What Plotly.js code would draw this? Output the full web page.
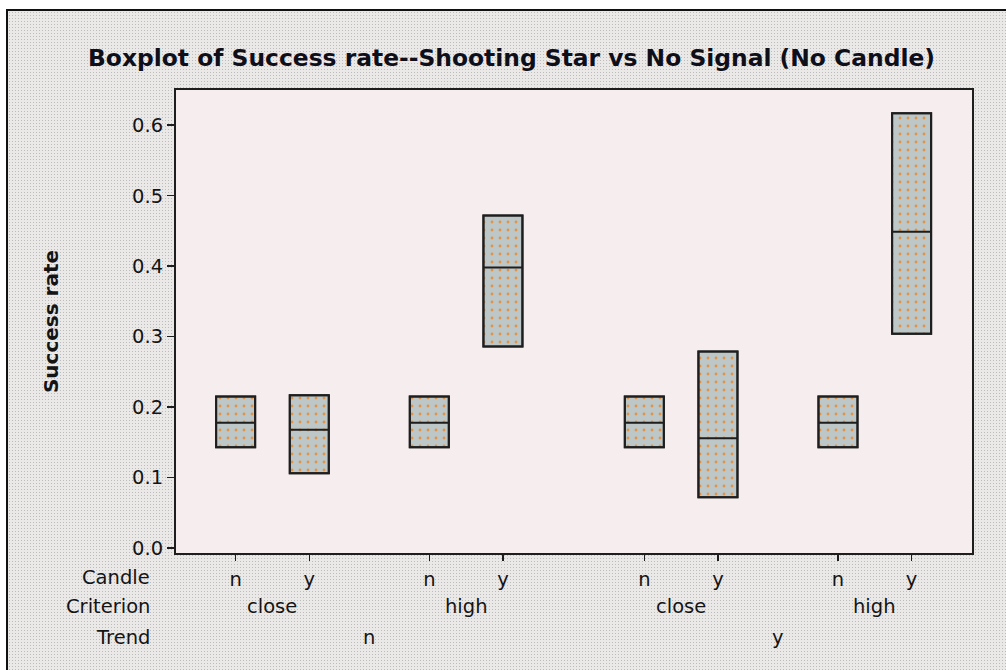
<!DOCTYPE html>
<html><head><meta charset="utf-8">
<script src="https://cdn.plot.ly/plotly-3.0.1.min.js"></script>
<style>
html,body{margin:0;padding:0;background:#fff;overflow:hidden;}
#frame{position:absolute;left:6px;top:9px;width:1100px;height:700px;border:2px solid #111;
  background-color:#ebe8e8;
  background-image:radial-gradient(#bcbcbc 35%, transparent 45%);
  background-size:3px 3px;}
#chart{position:absolute;left:0;top:0;width:1006px;height:670px;}
</style></head><body>
<div id="frame"></div><div id="chart"></div>
<script>
// ---- data ----
const trend     = ['n','n','n','n','y','y','y','y'];
const criterion = ['close','close','high','high','close','close','high','high'];
const candle    = ['n','y','n','y','n','y','n','y'];
const q1        = [0.143, 0.106, 0.143, 0.286, 0.143, 0.072, 0.143, 0.304];
const median    = [0.178, 0.168, 0.178, 0.398, 0.178, 0.156, 0.178, 0.449];
const q3        = [0.215, 0.217, 0.215, 0.472, 0.215, 0.279, 0.215, 0.617];
const yTicks    = [0, 0.1, 0.2, 0.3, 0.4, 0.5, 0.6];

// ---- layout of the nested categorical axis ----
const CRIT_STEP = 1.63, TREND_STEP = 1.92;
const pos = [];
for (let i = 0; i < candle.length; i++) {
  if (i === 0) { pos.push(0); continue; }
  let step = 1;
  if (trend[i] !== trend[i-1]) step = TREND_STEP;
  else if (criterion[i] !== criterion[i-1]) step = CRIT_STEP;
  pos.push(pos[i-1] + step);
}
function groupCentres(keyFn) {
  const out = []; let start = 0;
  for (let i = 1; i <= pos.length; i++) {
    if (i === pos.length || keyFn(i) !== keyFn(i-1)) {
      out.push({x: (pos[start] + pos[i-1]) / 2, i: start}); start = i;
    }
  }
  return out;
}
const critGroups  = groupCentres(i => trend[i] + '|' + criterion[i]);
const trendGroups = groupCentres(i => trend[i]);

const M = {l: 176, r: 34, t: 90, b: 117};
const H = 670, W = 1006;
const plotH = H - M.t - M.b, plotW = W - M.l - M.r;
const py = px => (H - M.b - px) / plotH;
const pxX = px => (px - M.l) / plotW;

const FONT = 'DejaVu Sans';
const TXT = '#141414';
const FS = 19.5;
const BOXW = 0.53;

const bars = {
  type: 'bar', x: pos, base: q1, y: q3.map((v, i) => v - q1[i]),
  width: BOXW, hoverinfo: 'skip', showlegend: false,
  marker: {color: '#bec7c7',
    pattern: {shape: '.', fgcolor: '#e0944a', bgcolor: '#bec7c7', size: 8, solidity: 0.1},
    line: {color: '#1e1e1e', width: 2}}
};
const boxes = {
  type: 'box', x: pos, q1: q1, median: median, q3: q3,
  lowerfence: q1, upperfence: q3, width: BOXW, whiskerwidth: 0,
  fillcolor: 'rgba(0,0,0,0)', line: {color: '#1e1e1e', width: 2},
  boxpoints: false, showlegend: false, hoverinfo: 'skip'
};

const ann = [];
const rowY = {Candle: 577, Criterion: 606, Trend: 637};
Object.keys(rowY).forEach(k => ann.push({
  text: k, xref: 'paper', yref: 'paper', x: pxX(152), y: py(rowY[k]),
  xanchor: 'right', yanchor: 'middle', showarrow: false,
  font: {family: FONT, size: FS, color: TXT}
}));
critGroups.forEach(g => ann.push({
  text: criterion[g.i], xref: 'x', yref: 'paper', x: g.x, y: py(rowY.Criterion),
  xanchor: 'center', yanchor: 'middle', showarrow: false,
  font: {family: FONT, size: FS, color: TXT}
}));
trendGroups.forEach(g => ann.push({
  text: trend[g.i], xref: 'x', yref: 'paper', x: g.x, y: py(rowY.Trend),
  xanchor: 'center', yanchor: 'middle', showarrow: false,
  font: {family: FONT, size: FS, color: TXT}
}));

const layout = {
  width: W, height: H, margin: M,
  paper_bgcolor: 'rgba(0,0,0,0)', plot_bgcolor: '#f6eeee',
  barmode: 'overlay', boxmode: 'overlay', showlegend: false,
  title: {text: 'Boxplot of Success rate--Shooting Star vs No Signal (No Candle)',
    xref: 'container', yref: 'container', x: 511.5 / W, y: 1 - 58 / H,
    xanchor: 'center', yanchor: 'middle',
    font: {family: FONT, size: 23.4, color: '#0f0f1a', weight: 'bold'}},
  xaxis: {range: [-0.81, 10.0], tickvals: pos, ticktext: candle,
    ticks: 'outside', ticklen: 6, tickwidth: 1.5, tickcolor: '#1e1e1e',
    ticklabelstandoff: 2,
    showgrid: false, zeroline: false, showline: true, mirror: true,
    linecolor: '#1e1e1e', linewidth: 2,
    tickfont: {family: FONT, size: FS, color: TXT}},
  yaxis: {range: [-0.007, 0.65], tickvals: yTicks, tickformat: '.1f',
    ticks: 'outside', ticklen: 7, tickwidth: 1.5, tickcolor: '#1e1e1e',
    showgrid: false, zeroline: false, showline: true, mirror: true,
    linecolor: '#1e1e1e', linewidth: 2,
    tickfont: {family: FONT, size: FS, color: TXT},
    title: {text: 'Success rate', standoff: 68,
      font: {family: FONT, size: 20, color: TXT, weight: 'bold'}}},
  annotations: ann
};

Plotly.newPlot('chart', [bars, boxes], layout, {displayModeBar: false, staticPlot: true});
</script>
</body></html>
